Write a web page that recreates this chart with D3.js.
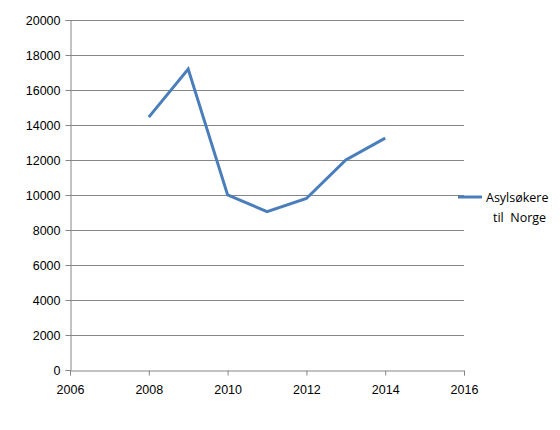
<!DOCTYPE html><html><head><meta charset="utf-8">
<script src="https://cdn.jsdelivr.net/npm/d3@7"></script>
<style>body{margin:0;background:#fff}</style></head><body>
<script>
const years=[2008,2009,2010,2011,2012,2013,2014];
const values=[14450,17200,10000,9050,9800,12000,13250];
const seriesName=["Asylsøkere","til  Norge"];
const yTicks=[0,2000,4000,6000,8000,10000,12000,14000,16000,18000,20000];
const xTicks=[2006,2008,2010,2012,2014,2016];
const W=560,H=430,L=70,R=464,T=20,B=370;
const svg=d3.select("body").append("svg").attr("width",W).attr("height",H).style("font-family","Open Sans, Liberation Sans, sans-serif");
const x=d3.scaleLinear().domain([2006,2016]).range([L,R]);
const y=d3.scaleLinear().domain([0,20000]).range([B,T]);
svg.append("g").selectAll("line").data(yTicks.slice(1)).join("line").attr("x1",L).attr("x2",R).attr("y1",d=>y(d)+.5).attr("y2",d=>y(d)+.5).attr("stroke","#868686");
const ya=svg.append("g").attr("transform",`translate(${L+.5},0)`).call(d3.axisLeft(y).tickValues(yTicks).tickSize(5).tickFormat(d3.format("d")));
const xa=svg.append("g").attr("transform",`translate(0,${B+.5})`).call(d3.axisBottom(x).tickValues(xTicks).tickSize(5).tickPadding(10).tickFormat(d3.format("d")));
[ya,xa].forEach(a=>{a.selectAll("path,line").attr("stroke","#868686");a.selectAll("text").attr("fill","#000").style("font-size","12.5px");});
ya.selectAll("text").attr("dx","-2");
svg.append("path").datum(years.map((d,i)=>[d,values[i]])).attr("fill","none").attr("stroke","#4a7ebb").attr("stroke-width",3)
 .attr("d",d3.line().x(d=>x(d[0])).y(d=>y(d[1])));
svg.append("line").attr("x1",458).attr("x2",482).attr("y1",197).attr("y2",197).attr("stroke","#4a7ebb").attr("stroke-width",3);
svg.append("text").attr("x",486).attr("y",202).style("font-size","12.5px").text(seriesName[0]);
svg.append("text").attr("x",493).attr("y",222).style("font-size","12.5px").attr("xml:space","preserve").style("white-space","pre").text(seriesName[1]);
</script></body></html>
